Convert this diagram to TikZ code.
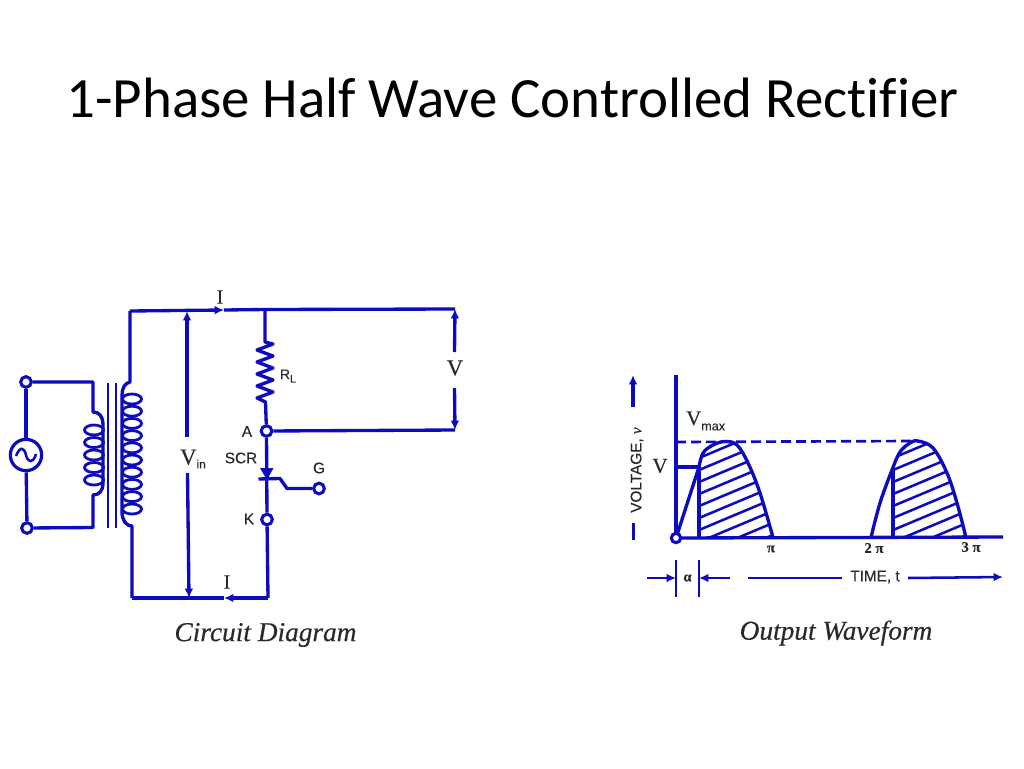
\documentclass[tikz,border=0pt]{standalone}
\usepackage{fontspec}
\usetikzlibrary{arrows.meta}
\newfontfamily\titlefont[Ligatures=NoCommon]{Carlito}
\newfontfamily\labelserif[FakeBold=0.15]{Liberation Serif}
\newfontfamily\labelsans[FakeBold=0.25]{Liberation Sans}
\newfontfamily\capfont[FakeBold=0.35,Ligatures=NoCommon]{Liberation Serif}
\definecolor{wireblue}{RGB}{12,12,190}
\definecolor{inkgrey}{RGB}{40,40,45}
\tikzset{
  wire/.style={draw=wireblue,line width=2.5pt,line join=round},
  thin wire/.style={draw=wireblue,line width=1.9pt,line join=round},
  hatchline/.style={draw=wireblue,line width=1.9pt},
  head/.style={-{Latex[length=7pt,width=6.5pt]}},
  terminal/.style={circle,draw=wireblue,line width=2.3pt,fill=white,minimum size=8pt,inner sep=0pt},
  serif label/.style={text=inkgrey,inner sep=0pt,font=\labelserif\fontsize{17}{20}\selectfont},
  sans label/.style={text=inkgrey,inner sep=0pt,font=\labelsans\fontsize{11.5}{14}\selectfont},
  tiny label/.style={text=inkgrey,inner sep=0pt,font=\labelserif\bfseries\fontsize{11}{12}\selectfont},
  caption label/.style={text=inkgrey,inner sep=0pt,font=\capfont\itshape\fontsize{20.5}{24}\selectfont},
  coil/.style={draw=wireblue,line width=2.1pt}
}
\begin{document}
\begin{tikzpicture}[x=0.75pt,y=-0.75pt]
\useasboundingbox (0,0) rectangle (1024,768);
\fill[white] (0,0) rectangle (1024,768);
\node[inner sep=0pt,font=\titlefont\fontsize{42.7}{52}\selectfont,text=black] (title) at (512.5,98) {1-Phase Half Wave Controlled Rectifier};

% --- transformer primary and source
\node[terminal] (s1) at (26,382) {};
\node[terminal] (s2) at (27,528) {};
\node[circle,draw=wireblue,line width=2.4pt,minimum size=23.5pt,inner sep=0pt,fill=white] (ac) at (26,455) {};
\draw[thin wire] (16,456) .. controls (20,446) and (24,447) .. (26,455) .. controls (28,463) and (33,464) .. (36,454);
\draw[wire] (s1) -- (ac);
\draw[wire] (ac) -- (s2);
\draw[wire] (s1) -- (93,382) -- (93,412) .. controls (99,412) and (103,416) .. (103,425) -- (103,483) .. controls (103,491) and (99,495) .. (93,495) -- (93,527.5) -- (s2);
\foreach \yy in {430,442.5,455,467.5,480}
  \draw[coil] (94,\yy) ellipse [x radius=9.5,y radius=5];
% core
\draw[thin wire] (108,383) -- (108,528);
\draw[thin wire] (116,383) -- (116,528);
% secondary
\foreach \yy in {399,411.2,423.4,435.6,447.8,460,472.2,484.4,496.6,509}
  \draw[coil] (132,\yy) ellipse [x radius=9.5,y radius=5];

% --- named circuit points
\coordinate (tl) at (130,311);
\coordinate (tr) at (455,309);
\coordinate (j1) at (265,309.5);
\coordinate (i1) at (224,310);
\coordinate (bl) at (132,598);
\coordinate (br) at (268,598);
\coordinate (i2) at (224,598);
\node[terminal] (A) at (266.5,431) {};
\node[terminal] (K) at (267,519.5) {};
\node[terminal] (G) at (319,488.5) {};
\coordinate (ar) at (455,430);

\draw[wire] (tl) -- (130,382) .. controls (125,383) and (122,388) .. (122,395) -- (122,512) .. controls (122,520) and (126,526) .. (132,526) -- (bl);
\draw[wire,head] (tl) -- (i1);
\draw[wire] (i1) -- (j1) -- (tr);
\draw[wire] (bl) -- (i2);
\draw[wire,head] (br) -- (i2);
\draw[wire] (j1) -- (265,342) -- (273,344) -- (257,350) -- (273,356) -- (257,362) -- (273,368) -- (257,374) -- (273,380) -- (257,386) -- (273,392) -- (257,398) -- (265.5,402) -- (A);
\draw[wire] (A) -- (ar);
\draw[wire] (A) -- (K);
\draw[wire] (K) -- (br);
% SCR
\fill[wireblue] (260,468) -- (273.5,468) -- (267,480) -- cycle;
\draw[wire] (258.5,479) -- (280,478.5) -- (287,488.5) -- (G);

% voltage arrows
\node[serif label] (vin) at (193,459) {V\raisebox{-3pt}{\labelsans\fontsize{9}{10}\selectfont in}};
\coordinate (vt1) at (187,311); \coordinate (vb1) at (189,598);
\draw[wire,head] (187,437) -- (vt1);
\draw[wire,head] (187.5,473) -- (vb1);
\node[serif label] (vout) at (455,368) {V};
\draw[wire,head] (454.5,352) -- (tr);
\draw[wire,head] (454.5,388) -- (ar);
\node[serif label,font=\labelserif\fontsize{15}{18}\selectfont] (il1) at (220,297) {I};
\node[serif label,font=\labelserif\fontsize{15}{18}\selectfont] (il2) at (227,582) {I};
\node[sans label,font=\labelsans\fontsize{10.5}{12}\selectfont] (rl) at (288,376) {R\raisebox{-2.5pt}{\fontsize{8}{9}\selectfont L}};
\node[sans label] (la) at (247,431.5) {A};
\node[sans label] (lscr) at (241,458) {SCR};
\node[sans label] (lk) at (249,519) {K};
\node[sans label] (lg) at (319,468) {G};
\node[caption label] (cap1) at (265.5,635) {Circuit Diagram};

% --- waveform
\coordinate (o) at (676,538);
\coordinate (xend) at (1003,537);
\begin{scope}
\clip (699,538) -- plot[smooth,tension=0.6] coordinates {(699,467) (703,453) (713,445) (725,441.5) (737,445) (748,463) (760,493) (773,537.5)} -- cycle;
\foreach \yz in {434,446,...,567}
  \draw[hatchline] (690,\yz+3.8) -- (790,\yz-38.2);
\end{scope}
\begin{scope}
\clip (893,538) -- plot[smooth,tension=0.6] coordinates {(893,470) (900,452) (910,443) (918,441) (933,448) (947,473) (957,503) (966,537.5)} -- cycle;
\foreach \yz in {434,446,...,567}
  \draw[hatchline] (885,\yz+3.4) -- (985,\yz-38.6);
\end{scope}
\draw[wire] (676,375) -- (o);
\draw[wire] (o) -- (xend);
\draw[wire,line width=2pt,dash pattern=on 7.5pt off 3.75pt] (676,442) -- (912,441);
\draw[wire] (676,467) -- (699,467);
\draw[wire] (o) -- (699,467);
\draw[wire] (699,538) -- (699,467);
\draw[wire] plot[smooth,tension=0.6] coordinates {(699,467) (703,453) (713,445) (725,441.5) (737,445) (748,463) (760,493) (773,537.5)};
\draw[wire] plot[smooth,tension=0.6] coordinates {(871,537.5) (880,503) (892,470) (900,452) (910,443) (918,441) (933,448) (947,473) (957,503) (966,537.5)};
\draw[wire] (893,538) -- (893,470);
\node[terminal,minimum size=7pt] (origin) at (o) {};

\node[sans label,rotate=90] (volt) at (637,470) {VOLTAGE, {\labelserif\itshape v}};
\coordinate (vt) at (633,375);
\draw[wire,head] (633,407) -- (vt);
\draw[wire] (633.5,523) -- (633.5,540);
\node[serif label,font=\labelserif\fontsize{16}{20}\selectfont] (lv) at (660,466) {V};
\node[serif label,anchor=west,font=\labelserif\fontsize{15.5}{20}\selectfont] (vmax) at (686,421) {V\raisebox{-4pt}{\labelsans\fontsize{9.5}{11}\selectfont max}};
\node[tiny label] (p1) at (771,549) {π};
\node[tiny label] (p2) at (874,548) {2 π};
\node[tiny label] (p3) at (971,547) {3 π};

% time axis
\coordinate (t1) at (676,560); \coordinate (t1b) at (676,597);
\coordinate (t2) at (699,560); \coordinate (t2b) at (699,597);
\draw[thin wire] (t1) -- (t1b);
\draw[thin wire] (t2) -- (t2b);
\coordinate (ta) at (676,578); \coordinate (tb) at (699,578);
\draw[thin wire,head] (647,578) -- (ta);
\draw[thin wire,head] (730,578) -- (tb);
\node[tiny label] (alpha) at (687.5,578) {α};
\node[sans label] (time) at (875,577) {TIME, t};
\draw[thin wire] (748,578) -- (842,578);
\draw[thin wire,head] (908,578) -- (xend |- time);
\node[caption label] (cap2) at (836,633) {Output Waveform};
\end{tikzpicture}
\end{document}
